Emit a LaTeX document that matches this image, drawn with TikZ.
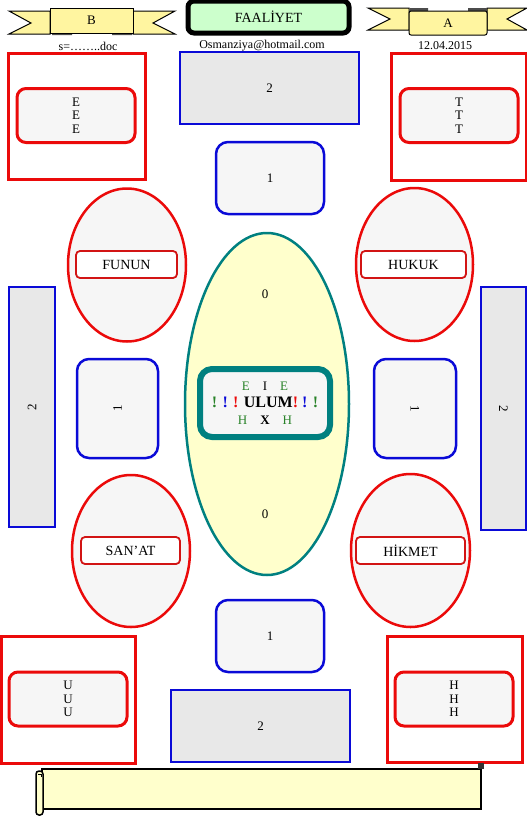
\documentclass[tikz,border=0pt]{standalone}
\usepackage{fontspec}
\setmainfont{Liberation Serif}
\usepackage{xcolor}
\usetikzlibrary{shapes.geometric}

\definecolor{framered}{RGB}{235,10,10}
\definecolor{tagred}{RGB}{210,20,20}
\definecolor{edgeblue}{RGB}{10,10,215}
\definecolor{tealline}{RGB}{0,128,128}
\definecolor{paleyellow}{RGB}{255,255,204}
\definecolor{ribbonyellow}{RGB}{255,245,160}
\definecolor{palegreen}{RGB}{204,255,204}
\definecolor{boxgray}{RGB}{232,232,232}
\definecolor{softgray}{RGB}{246,246,246}
\definecolor{leafgreen}{RGB}{40,130,40}

\begin{document}
\begin{tikzpicture}[x=1pt, y=-1pt,
        % Define common styles for the shapes and text
        font=\fontsize{13}{15}\selectfont,
        redframe/.style={draw=framered, line width=3pt, inner sep=0pt},
        letterbox/.style={draw=framered, line width=3pt, rounded corners=9pt, fill=softgray, align=center, inner sep=0pt, minimum width=118, minimum height=54, font=\fontsize{13}{13.5}\selectfont},
        graybox/.style={draw=edgeblue, line width=2.5pt, fill=boxgray, inner sep=0pt},
        onebox/.style={draw=edgeblue, line width=2.5pt, rounded corners=12pt, fill=softgray, inner sep=0pt},
        oval/.style={ellipse, draw=framered, line width=2.5pt, fill=softgray, inner sep=0pt, minimum width=118, minimum height=153},
        tag/.style={draw=tagred, line width=1.8pt, rounded corners=4pt, fill=white, inner sep=0pt, minimum height=27, font=\fontsize{14}{15}\selectfont},
        ribbon/.style={draw=black, line width=1pt, fill=ribbonyellow},
        smalltext/.style={font=\fontsize{12}{13}\selectfont}
    ]
    \useasboundingbox (0,0) rectangle (527,817);

    % Ribbon B
    \draw[ribbon] (9,11) -- (50,11) -- (50,34) -- (9,34) -- (31,23) -- cycle;
    \draw[ribbon] (133,11) -- (175,11) -- (153,23) -- (175,34) -- (133,34) -- cycle;
    \fill[black!70] (52,32) rectangle (72,35) (112,32) rectangle (132,35);
    \node[ribbon, minimum width=83, minimum height=25, inner sep=0pt] (ribbonB) at (91.5,20.5) {B};

    % Ribbon A
    \draw[ribbon] (368,8) -- (409,8) -- (409,30) -- (368,30) -- (390,19) -- cycle;
    \draw[ribbon] (487,8) -- (527,8) -- (507,19) -- (527,30) -- (487,30) -- cycle;
    \fill[black!70] (410,8) rectangle (428,11) (468,8) rectangle (487,11);
    \node[ribbon, rounded corners=2pt, minimum width=78, minimum height=24, inner sep=0pt] (ribbonA) at (448,23) {A};

    % Title
    \node[draw=black, line width=5pt, rounded corners=6pt, fill=palegreen, minimum width=161, minimum height=32, inner sep=0pt, font=\fontsize{14}{15}\selectfont] (title) at (268.5,17) {FAALİYET};

    \node[smalltext] (file) at (88,46) {s=……..doc};
    \node[smalltext] (mail) at (262,46) {Osmanziya@hotmail.com};
    \node[smalltext] (date) at (445,46) {12.04.2015};

    % Corner frames
    \node[redframe, minimum width=137, minimum height=126] (frameE) at (76.5,116) {};
    \node[letterbox] (boxE) at (76,115.5) {E\\E\\E};
    \node[redframe, minimum width=135, minimum height=127] (frameT) at (458.5,116.5) {};
    \node[letterbox] (boxT) at (459,115.5) {T\\T\\T};
    \node[redframe, minimum width=134, minimum height=127] (frameU) at (68,699.5) {};
    \node[letterbox] (boxU) at (68,699) {U\\U\\U};
    \node[redframe, minimum width=135, minimum height=126] (frameH) at (454.5,699) {};
    \node[letterbox] (boxH) at (454,699) {H\\H\\H};

    % Gray bars and boxes
    \node[graybox, minimum width=179, minimum height=72] (topbar) at (269.5,88) {2};
    \node[graybox, minimum width=179, minimum height=72] (bottombar) at (260.5,726) {2};
    \node[graybox, minimum width=46, minimum height=240] (leftbar) at (32,407) {\rotatebox{90}{2}};
    \node[graybox, minimum width=45, minimum height=243] (rightbar) at (503.5,408.5) {\rotatebox{-90}{2}};

    \node[onebox, minimum width=108, minimum height=72] (topone) at (270,178) {1};
    \node[onebox, minimum width=108, minimum height=72] (bottomone) at (270,636) {1};
    \node[onebox, minimum width=81, minimum height=99] (leftone) at (117.5,408.5) {\rotatebox{90}{1}};
    \node[onebox, minimum width=82, minimum height=99] (rightone) at (415,408.5) {\rotatebox{-90}{1}};

    % Ovals
    \node[oval] (funun) at (127,265) {};
    \node[tag, minimum width=101] (fununtag) at (126.5,264.5) {FUNUN};
    \node[oval, minimum width=117] (hukuk) at (414.5,264.5) {};
    \node[tag, minimum width=105] (hukuktag) at (413.5,264.5) {HUKUK};
    \node[oval, minimum height=152] (sanat) at (131,551) {};
    \node[tag, minimum width=99] (sanattag) at (130.5,550.5) {SAN’AT};
    \node[oval, minimum width=119] (hikmet) at (410.5,550.5) {};
    \node[tag, minimum width=109] (hikmettag) at (410.5,550.5) {HİKMET};

    % Center
    \node[ellipse, draw=tealline, line width=2.5pt, fill=paleyellow, minimum width=164, minimum height=342, inner sep=0pt] (core) at (267,404) {};
    \node (zerotop) at (265,294) {0};
    \node (zerobottom) at (265,514) {0};
    \node[draw=tealline, line width=6pt, rounded corners=12pt, fill=softgray, minimum width=130, minimum height=68, inner sep=0pt, align=center, font=\fontsize{13}{17}\selectfont] (ulum) at (265,403)
        {\textcolor{leafgreen}{E}\quad I\quad\textcolor{leafgreen}{E}\\
         {\bfseries\fontsize{16}{17}\selectfont\textcolor{leafgreen}{!} \textcolor{edgeblue}{!} \textcolor{framered}{!} ULUM\textcolor{framered}{!} \textcolor{edgeblue}{!} \textcolor{leafgreen}{!}}\\
         \textcolor{leafgreen}{H}\quad{\bfseries X}\quad\textcolor{leafgreen}{H}};

    % Scroll
    \draw[line width=1.5pt, fill=paleyellow] (42,769) rectangle (481,809);
    \draw[line width=1.5pt, fill=paleyellow, rounded corners=3pt] (36,771) rectangle (43,815);
    \draw[line width=1pt] (38,774) -- (41,774) -- (41,777);
    \fill[black!80] (478,763) rectangle (484,769);
    \node[inner sep=0pt] (scroll) at (261,789) {};

\end{tikzpicture}
\end{document}
